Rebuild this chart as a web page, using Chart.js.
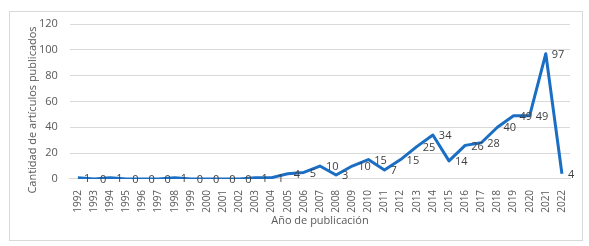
<!DOCTYPE html>
<html>
<head>
<meta charset="utf-8">
<script src="https://cdn.jsdelivr.net/npm/chart.js@4"></script>
<style>
  html, body { margin: 0; padding: 0; background: #fff; }
  #wrap { width: 589px; height: 246px; }
</style>
</head>
<body>
<div id="wrap"><canvas id="chart"></canvas></div>
<script>
    // años y cantidad de artículos
    const years = ["1992","1993","1994","1995","1996","1997","1998","1999","2000","2001","2002",
        "2003","2004","2005","2006","2007","2008","2009","2010","2011","2012","2013","2014",
        "2015","2016","2017","2018","2019","2020","2021","2022"];
    const articles = [1,0,1,0,0,0,1,0,0,0,0,1,1,4,5,10,3,10,15,7,15,25,34,14,26,28,40,49,49,97,4];
    const yTicks = [0, 20, 40, 60, 80, 100, 120];
    const yTitle = "Cantidad de artículos publicados";

    const fontFamily = "'Open Sans', 'Noto Sans', sans-serif";
    const textColor = "#595959";

    // marco gris alrededor del gráfico y título del eje Y
    const frame = {
        id: "frame",
        beforeDraw(chart) {
            const ctx = chart.ctx;
            ctx.save();
            ctx.fillStyle = "#fff";
            ctx.fillRect(0, 0, chart.width, chart.height);
            ctx.strokeStyle = "#d9d9d9";
            ctx.lineWidth = 1;
            ctx.strokeRect(9.5, 11.5, 573, 229);
            ctx.translate(33, 110);
            ctx.rotate(-Math.PI / 2);
            ctx.font = "11px " + fontFamily;
            ctx.fillStyle = textColor;
            ctx.textAlign = "center";
            ctx.textBaseline = "middle";
            ctx.fillText(yTitle, 0, 0);
            ctx.restore();
        }
    };

    // etiquetas de valores a la derecha de cada punto
    const valueLabels = {
        id: "valueLabels",
        afterDatasetsDraw(chart) {
            const ctx = chart.ctx;
            const meta = chart.getDatasetMeta(0);
            ctx.save();
            ctx.font = "11px " + fontFamily;
            ctx.fillStyle = "#404040";
            ctx.textAlign = "left";
            ctx.textBaseline = "middle";
            meta.data.forEach((pt, i) => {
                ctx.fillText(String(articles[i]), pt.x + 6, pt.y + 1);
            });
            ctx.restore();
        }
    };

    new Chart(document.getElementById("chart"), {
        type: "line",
        data: {
            labels: years,
            datasets: [{
                data: articles,
                borderColor: "#1a6ec4",
                borderWidth: 3,
                pointRadius: 0,
                tension: 0,
                borderJoinStyle: "round"
            }]
        },
        options: {
            responsive: true,
            maintainAspectRatio: false,
            animation: false,
            layout: { padding: { left: 27, right: 19, top: 24, bottom: 19 } },
            plugins: {
                legend: { display: false },
                tooltip: { enabled: false }
            },
            scales: {
                x: {
                    offset: true,
                    grid: { display: false },
                    border: { display: true, color: "#d9d9d9" },
                    ticks: {
                        color: textColor,
                        font: { family: fontFamily, size: 10 },
                        minRotation: 90,
                        maxRotation: 90,
                        autoSkip: false,
                        padding: 3
                    },
                    title: {
                        display: true,
                        text: "Año de publicación",
                        color: textColor,
                        font: { family: fontFamily, size: 11 },
                        padding: { top: -2, bottom: 0 }
                    }
                },
                y: {
                    min: 0,
                    max: 120,
                    afterBuildTicks(axis) {
                        axis.ticks = yTicks.map(v => ({ value: v }));
                    },
                    grid: { color: "#d9d9d9", drawTicks: false },
                    border: { display: false },
                    ticks: {
                        color: textColor,
                        font: { family: fontFamily, size: 11 },
                        padding: 12
                    }
                }
            }
        },
        plugins: [frame, valueLabels]
    });
</script>
</body>
</html>
